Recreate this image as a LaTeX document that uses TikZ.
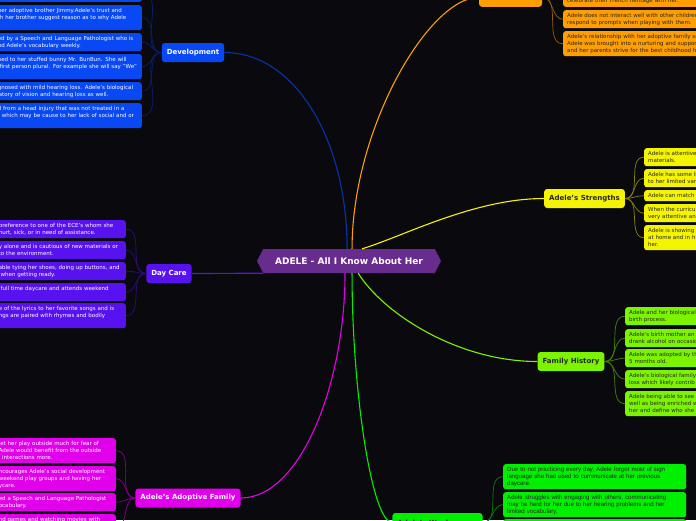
\documentclass[tikz,border=0pt]{standalone}
\usepackage{fontspec}
\setmainfont{DejaVu Sans}
\newfontfamily\narrowleaf{Liberation Sans}
\usepackage{tikz}
\usetikzlibrary{shapes.symbols}
\definecolor{bgdark}      {RGB}{10,  10,  14}
\definecolor{corepurple}  {RGB}{104, 44, 142}
\definecolor{devblue}     {RGB}{8,   72, 245}
\definecolor{daypurple}   {RGB}{88,  18, 240}
\definecolor{famagenta}   {RGB}{226,  0, 236}
\definecolor{socorange}   {RGB}{255, 158,  0}
\definecolor{stryellow}   {RGB}{244, 244,  0}
\definecolor{histlime}    {RGB}{124, 244,  0}
\definecolor{weakgreen}   {RGB}{0,   240,  0}
\tikzset{
	mapbranch/.style={fill=#1, rounded corners=3pt, font=\bfseries\fontsize{7}{8}\selectfont, inner xsep=5pt, minimum height=19pt},
	mapleaf/.style={fill=#1, rounded corners=2.5pt, font=\fontsize{5.5}{7}\selectfont, align=left, inner xsep=4pt, inner ysep=2pt,
		execute at begin node=\strut, execute at end node=\strut},
	leftleaf/.style={mapleaf=#1, text=white, anchor=north east},
	rightleaf/.style={mapleaf=#1, text=black!85, anchor=north west, text width=200pt},
	twig/.style={draw=#1, line width=0.7pt},
	bough/.style={draw=#1, line width=1.1pt}
}
\begin{document}
\begin{tikzpicture}[x=1pt,y=-1pt]
	\useasboundingbox (0,0) rectangle (696,520);
	\clip (0,0) rectangle (696,520);
	\fill[bgdark] (0,0) rectangle (696,520);
	% centre
	\node[signal, signal to=west and east, signal pointer angle=125, fill=corepurple, text=white,
		font=\bfseries\fontsize{9}{10}\selectfont, minimum width=184pt, minimum height=24pt, inner sep=0pt]
		(core) at (349,261) {ADELE - All I Know About Her};
	% development
	\node[mapbranch=devblue, text=white] (dev) at (193,52.5) {Development};
	\node[leftleaf=devblue, text width=140pt, minimum height=18pt, anchor=south east] (dev1) at (142,2) {};
	\node[leftleaf=devblue, text width=140pt] (dev2) at (142,5) {her adoptive brother Jimmy.Adele's trust and\\th her brother suggest reason as to why Adele\\\mbox{}};
	\node[leftleaf=devblue, text width=140pt] (dev3) at (142,33) {ed by a Speech and Language Pathologist who is\\nd Adele's vocabulary weekly.};
	\node[leftleaf=devblue, text width=140pt] (dev4) at (142,54) {hed to her stuffed bunny Mr. BunBun. She will\\\ first person plural. For example she will say "We"\\.};
	\node[leftleaf=devblue, text width=140pt] (dev5) at (142,82) {gnosed with mild hearing loss. Adele's biological\\istory of vision and hearing loss as well.};
	\node[leftleaf=devblue, text width=140pt] (dev6) at (142,103) {d from a head injury that was not treated in a\\r which may be cause to her lack of social and or\\\mbox{}};
	% day care
	\node[mapbranch=daypurple, text=white] (day) at (169,273.5) {Day Care};
	\node[leftleaf=daypurple, text width=123pt] (day1) at (126,220) {preference to one of the ECE's whom she\\hurt, sick, or in need of assistance.};
	\node[leftleaf=daypurple, text width=123pt] (day2) at (126,241) {y alone and is cautious of new materials or\\to the environment.};
	\node[leftleaf=daypurple, text width=123pt] (day3) at (126,262) {able tying her shoes, doing up buttons, and\\\ when getting ready.};
	\node[leftleaf=daypurple, text width=123pt] (day4) at (126,283) {\ full time daycare and attends weekend\\\mbox{}};
	\node[leftleaf=daypurple, text width=123pt] (day5) at (126,303) {e of the lyrics to her favorite songs and is\\ngs are paired with rhymes and bodily\\\mbox{}};
	% adoptive family
	\node[mapbranch=famagenta, text=white] (fam) at (188,498) {Adele's Adoptive Family};
	\node[leftleaf=famagenta, text width=113pt] (fam1) at (116,438) {let her play outside much for fear of\\Adele would benefit from the outside\\l interactions more.};
	\node[leftleaf=famagenta, text width=113pt] (fam2) at (116,466) {ncourages Adele's social development\\weekend play groups and having her\\ycare.};
	\node[leftleaf=famagenta, text width=113pt] (fam3) at (116,493) {ed a Speech and Language Pathologist\\ocabulary.};
	\node[leftleaf=famagenta, text width=113pt] (fam4) at (116,514) {nd games and watching movies with\\\mbox{}\\\mbox{}};
	% social
	\node[mapbranch=socorange, minimum width=63pt, anchor=south] (soc) at (510.5,7) {};
	\node[rightleaf=socorange, anchor=south west] (soc1) at (563,7) {\mbox{}\\celebrate their French heritage with her.};
	\node[rightleaf=socorange] (soc2) at (563,10) {Adele does not interact well with other children\\respond to prompts when playing with them.};
	\node[rightleaf=socorange] (soc3) at (563,31) {Adele's relationship with her adoptive family se\\Adele was brought into a nurturing and suppor\\and her parents strive for the best childhood fo};
	% strengths
	\node[mapbranch=stryellow, text=black!85] (str) at (584.5,198.5) {Adele's Strengths};
	\node[rightleaf=stryellow] (str1) at (644,148) {Adele is attentive\\materials.};
	\node[rightleaf=stryellow] (str2) at (644,169) {Adele has some li\\to her limited var};
	\node[rightleaf=stryellow] (str3) at (644,190) {Adele can match};
	\node[rightleaf=stryellow] (str4) at (644,204) {When the curricu\\very attentive an};
	\node[rightleaf=stryellow] (str5) at (644,225) {Adele is showing\\at home and in h\\her.};
	% family history
	\node[mapbranch=histlime, text=black!85] (hist) at (571,361.5) {Family History};
	\node[rightleaf=histlime] (hist1) at (625,307) {Adele and her biological\\birth process.};
	\node[rightleaf=histlime] (hist2) at (625,329) {Adele's birth mother an\\drank alcohol on occasio};
	\node[rightleaf=histlime] (hist3) at (625,349) {Adele was adopted by th\\5 months old.};
	\node[rightleaf=histlime] (hist4) at (625,370) {Adele's biological family\\loss which likely contrib};
	\node[rightleaf=histlime] (hist5) at (625,391) {Adele being able to see\\well as being enriched w\\her and define who she};
	% weaknesses
	\node[mapbranch=weakgreen, text=black!85] (weak) at (437.5,522.5) {Adele's Weaknesses};
	\node[rightleaf=weakgreen, text width=175pt, font=\narrowleaf\fontsize{6.1}{7}\selectfont] (weak1) at (503,464) {Due to not practicing every day, Adele forgot most of sign\\language she had used to communicate at her previous\\daycare.};
	\node[rightleaf=weakgreen, text width=175pt, font=\narrowleaf\fontsize{6.1}{7}\selectfont] (weak2) at (503,492) {Adele struggles with engaging with others, communicating\\may be hard for her due to her hearing problems and her\\limited vocabulary.};
	\node[rightleaf=weakgreen, text width=175pt, minimum height=18pt] (weak3) at (503,519) {};
	% branches
	\draw[bough=devblue!70!black] (core.99) .. controls +(0,-110) and +(70,0) .. (dev.east);
	\draw[bough=daypurple] (core.south west) to[out=180,in=0] (day.east);
	\draw[bough=famagenta] (core.-108) .. controls +(0,110) and +(60,0) .. (fam.east);
	\draw[bough=socorange] (core.76) .. controls +(0,-120) and +(-50,0) .. (soc.west);
	\draw[bough=stryellow] (core.43) .. controls +(40,-12) and +(-70,0) .. (str.west);
	\draw[bough=histlime] (core.-53) .. controls +(25,40) and +(-80,0) .. (hist.west);
	\draw[bough=weakgreen] (core.-76) .. controls +(0,120) and +(-20,0) .. (weak.west);
	% leaves
	\foreach \i in {1,...,6} \draw[twig=devblue!45!black] (dev.west) to[out=180,in=0] (dev\i.east);
	\foreach \i in {1,...,5} \draw[twig=daypurple!55!black] (day.west) to[out=180,in=0] (day\i.east);
	\foreach \i in {1,...,4} \draw[twig=famagenta!60!black] (fam.west) to[out=180,in=0] (fam\i.east);
	\foreach \i in {1,...,3} \draw[twig=socorange!60!black] (soc.east) to[out=0,in=180] (soc\i.west);
	\foreach \i in {1,...,5} \draw[twig=stryellow!55!black] (str.east) to[out=0,in=180] (str\i.west);
	\foreach \i in {1,...,5} \draw[twig=histlime!55!black] (hist.east) to[out=0,in=180] (hist\i.west);
	\foreach \i in {1,...,3} \draw[twig=weakgreen!55!black] (weak.east) to[out=0,in=180] (weak\i.west);
\end{tikzpicture}
\end{document}
